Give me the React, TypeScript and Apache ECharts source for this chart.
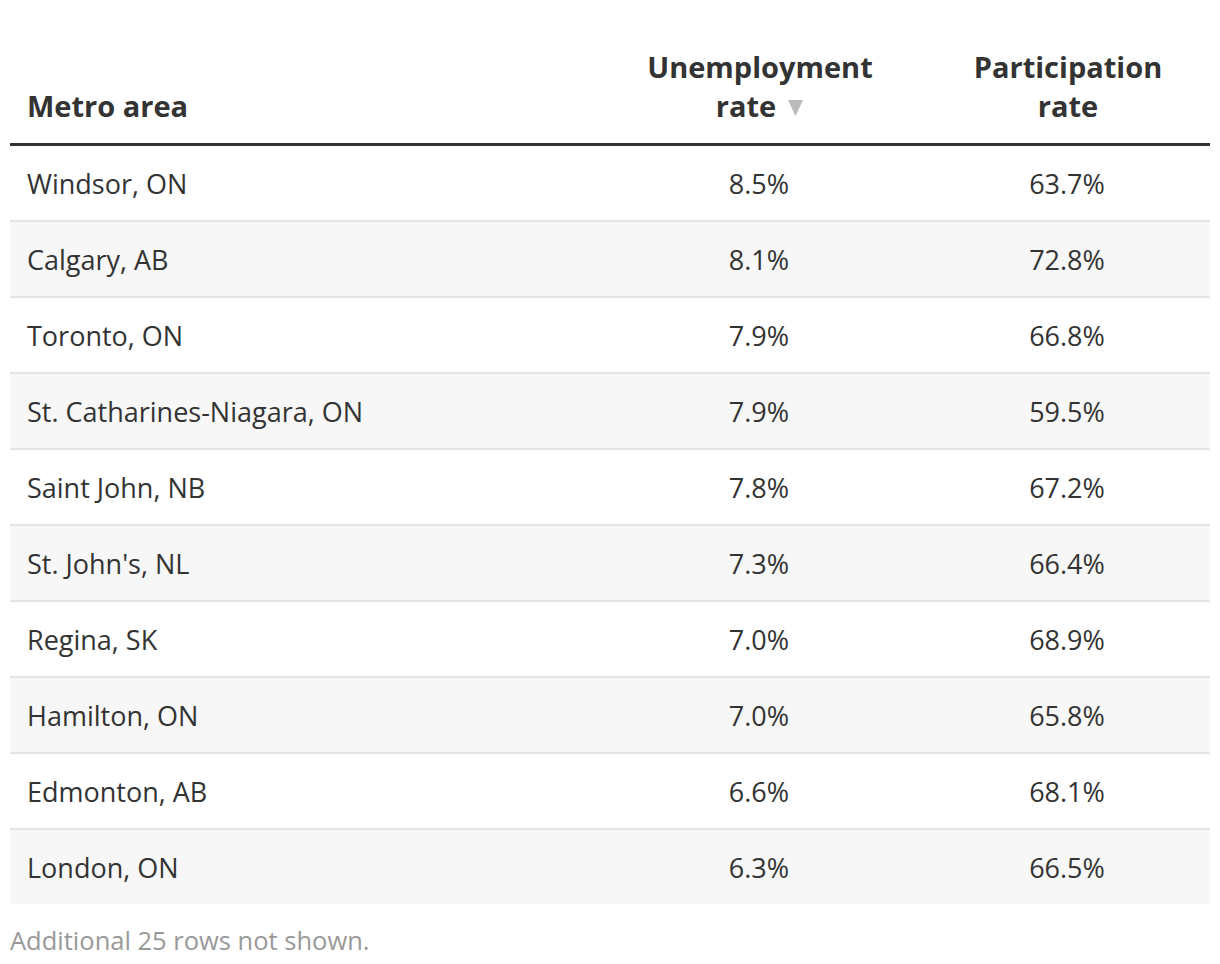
import React, { useEffect, useRef } from "react";
import * as echarts from "echarts";

const metros = [
  "Windsor, ON",
  "Calgary, AB",
  "Toronto, ON",
  "St. Catharines-Niagara, ON",
  "Saint John, NB",
  "St. John's, NL",
  "Regina, SK",
  "Hamilton, ON",
  "Edmonton, AB",
  "London, ON",
];
const unemploymentRate = [8.5, 8.1, 7.9, 7.9, 7.8, 7.3, 7.0, 7.0, 6.6, 6.3];
const participationRate = [63.7, 72.8, 66.8, 59.5, 67.2, 66.4, 68.9, 65.8, 68.1, 66.5];
const headers = ["Metro area", "Unemployment", "rate", "Participation", "rate"];
const footerNote = "Additional 25 rows not shown.";

const FONT = '"Open Sans", "Noto Sans", sans-serif';

export default function App() {
  const ref = useRef<HTMLDivElement>(null);
  useEffect(() => {
    if (!ref.current) return;
    const chart = echarts.init(ref.current, null, { renderer: "svg" });
    const tableLeft = 10;
    const tableWidth = 1200;
    const col1X = 749; // relative to table left
    const col2X = 1057;
    const data = metros.map((m, i) => ({ value: [0, i], name: m }));
    chart.setOption({
      animation: false,
      backgroundColor: "#ffffff",
      grid: { left: tableLeft, width: tableWidth, top: 146, height: 760 },
      xAxis: { type: "value", min: 0, max: 1, show: false },
      yAxis: { type: "category", inverse: true, data: metros, show: false },
      series: [
        {
          type: "custom",
          coordinateSystem: "cartesian2d",
          data,
          encode: { x: 0, y: 1 },
          renderItem: (params: any, api: any) => {
            const i = api.value(1);
            const cs = params.coordSys;
            const yc = api.coord([0, i])[1];
            const bh = api.size([0, 1])[1];
            const top = yc - bh / 2;
            const last = i === metros.length - 1;
            const children: any[] = [];
            if (i % 2 === 1) {
              children.push({
                type: "rect",
                shape: { x: cs.x, y: top, width: cs.width, height: bh - 2 },
                style: { fill: "#f7f7f7" },
              });
            }
            if (!last) {
              children.push({
                type: "rect",
                shape: { x: cs.x, y: top + bh - 2, width: cs.width, height: 2 },
                style: { fill: "#e5e5e5" },
              });
            }
            const txt = (text: string, x: number, align: string) => ({
              type: "text",
              style: {
                text,
                x,
                y: yc - 1,
                fill: "#333333",
                fontSize: 27,
                fontFamily: FONT,
                align,
                verticalAlign: "middle",
                textAlign: align,
                textVerticalAlign: "middle",
              },
            });
            children.push(txt(metros[i], cs.x + 17, "left"));
            children.push(txt(unemploymentRate[i].toFixed(1) + "%", cs.x + col1X, "center"));
            children.push(txt(participationRate[i].toFixed(1) + "%", cs.x + col2X, "center"));
            return { type: "group", children };
          },
        },
      ],
      graphic: [
        ...[
          [headers[0], 27, 105, "left"],
          [headers[1], 760, 66, "center"],
          [headers[2], 746, 105, "center"],
          [headers[3], 1068, 66, "center"],
          [headers[4], 1068, 105, "center"],
        ].map(([t, x, y, a]) => ({
          type: "text",
          style: {
            text: t,
            x,
            y,
            fill: "#333333",
            fontSize: 29,
            fontWeight: "bold",
            fontFamily: FONT,
            align: a,
            verticalAlign: "middle",
            textAlign: a,
            textVerticalAlign: "middle",
          },
        })),
        {
          type: "polygon",
          shape: { points: [[788, 100], [803, 100], [795.5, 116]] },
          style: { fill: "#bbbbbb" },
        },
        {
          type: "rect",
          shape: { x: tableLeft, y: 143, width: tableWidth, height: 3 },
          style: { fill: "#333333" },
        },
        {
          type: "text",
          style: {
            text: footerNote,
            x: 10,
            y: 940,
            fill: "#999999",
            fontSize: 25.5,
            fontFamily: FONT,
            align: "left",
            verticalAlign: "middle",
            textAlign: "left",
            textVerticalAlign: "middle",
          },
        },
      ],
    });
    return () => chart.dispose();
  }, []);
  return (
    <div
      ref={ref}
      style={{ position: "fixed", left: 0, top: 0, width: 1220, height: 964 }}
    />
  );
}
